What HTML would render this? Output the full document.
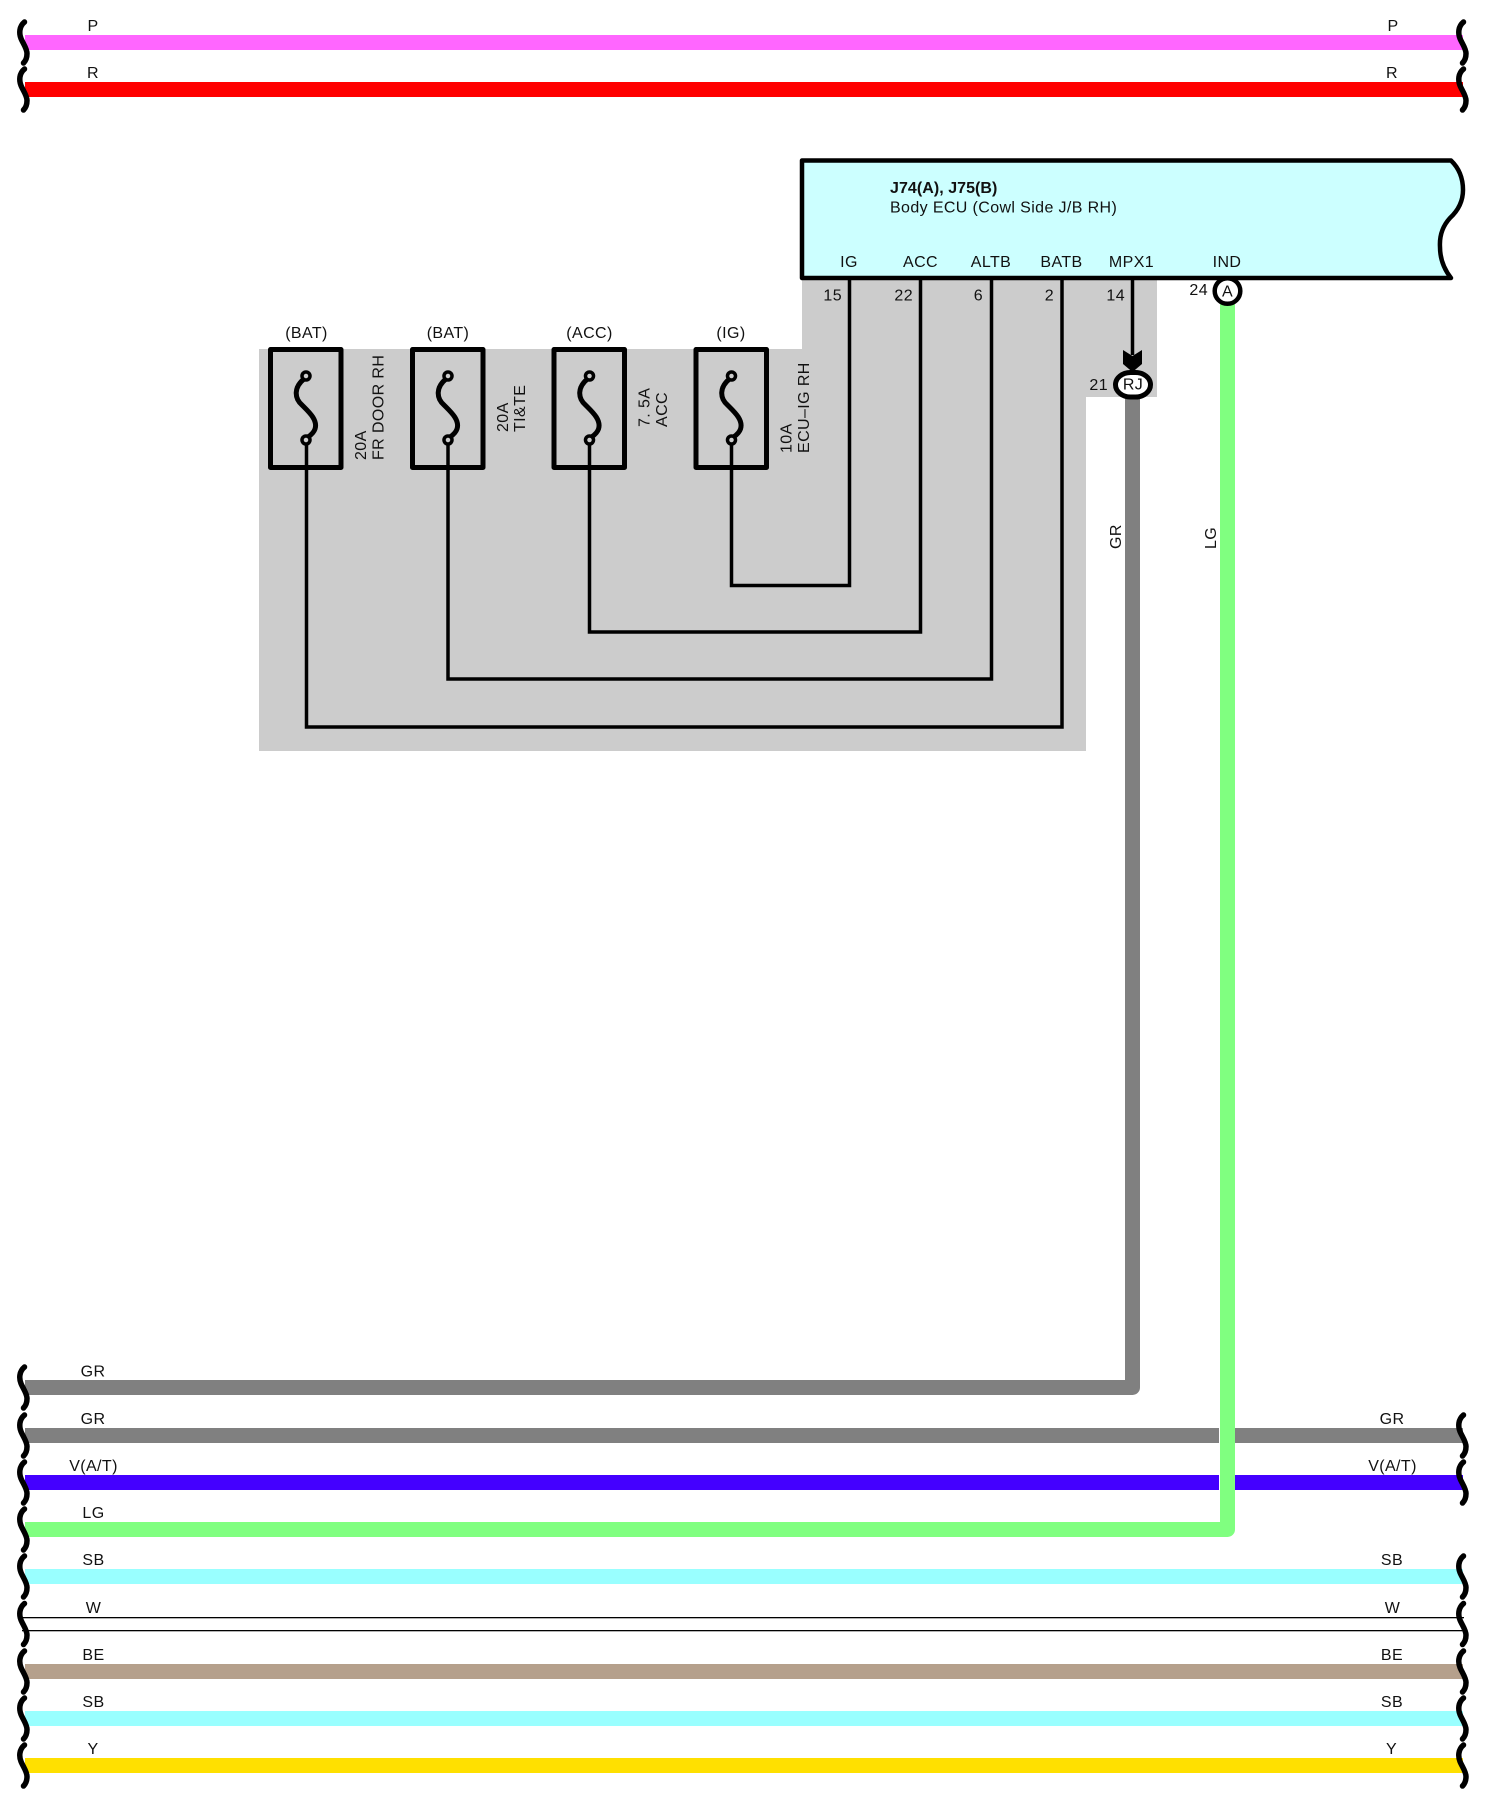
<!DOCTYPE html>
<html><head><meta charset="utf-8"><style>
html,body{margin:0;padding:0;background:#fff}
svg{display:block}
text{font-family:"Liberation Sans",Arial,sans-serif;font-size:16px;fill:#111;letter-spacing:.4px}
.m{text-anchor:middle}.e{text-anchor:end}
.w{fill:none;stroke-width:15}
.k{fill:none;stroke:#000;stroke-width:3.500}
.s{fill:none;stroke:#000;stroke-width:5.500;stroke-linecap:round}
</style></head><body>
<svg width="1488" height="1800" viewBox="0 0 1488 1800" xmlns="http://www.w3.org/2000/svg">
<defs>
<path id="sl" class="s" d="M24.5-20.500C19-16 19-9 21-4C23 1 27 6 27 11C27 15 26 18 23.500 20.500"/>
<path id="sr" class="s" d="M1463.500-20.500C1458-16 1458-9 1460-4C1462 1 1466 6 1466 11C1466 15 1465 18 1462.500 20.500"/>
<g id="fuse">
<rect x="-35.500" y="349.500" width="70.500" height="118" fill="none" stroke="#000" stroke-width="5" stroke-linejoin="round"/>
<path d="M-2 379C-12 387-12 398-4 405C3 412 12 420 9 429C8 432 5 435 2 437" fill="none" stroke="#000" stroke-width="5"/>
<circle cx="0" cy="376" r="4" fill="#ccc" stroke="#000" stroke-width="3.500"/>
<circle cx="0" cy="440" r="4" fill="#ccc" stroke="#000" stroke-width="3.500"/>
</g>
</defs>

<polygon fill="#ccc" points="259,349 802,349 802,280 1157,280 1157,397 1086,397 1086,751 259,751"/>

<!-- top wires -->
<rect x="25" y="35" width="1438" height="15" fill="#ff66ff"/>
<rect x="25" y="82" width="1438" height="15" fill="#ff0000"/>

<!-- bottom wires -->
<rect x="25" y="1428" width="1438" height="15" fill="#808080"/>
<rect x="25" y="1475" width="1438" height="15" fill="#4400ff"/>
<rect x="25" y="1569" width="1438" height="15" fill="#99ffff"/>
<rect x="22" y="1617" width="1442" height="1.300" fill="#000"/>
<rect x="22" y="1630" width="1442" height="1.300" fill="#000"/>
<rect x="25" y="1664" width="1438" height="15" fill="#b5a08c"/>
<rect x="25" y="1711" width="1438" height="15" fill="#99ffff"/>
<rect x="25" y="1758" width="1438" height="15" fill="#ffe000"/>
<path class="w" stroke="#808080" stroke-linejoin="round" d="M25 1387.500H1132.500V390"/>
<rect x="1219" y="1428" width="1" height="15" fill="#fff"/>
<rect x="1219" y="1475" width="1" height="15" fill="#fff"/>
<path class="w" stroke="#80ff80" stroke-linejoin="round" d="M25 1529.500H1227.500V295"/>

<!-- squiggles left -->
<use href="#sl" y="42.500"/><use href="#sl" y="89.500"/>
<use href="#sl" y="1387.500"/><use href="#sl" y="1435.500"/><use href="#sl" y="1482.500"/><use href="#sl" y="1529.500"/>
<use href="#sl" y="1576.500"/><use href="#sl" y="1624"/><use href="#sl" y="1671.500"/><use href="#sl" y="1718.500"/><use href="#sl" y="1765.500"/>
<!-- squiggles right -->
<use href="#sr" y="42.500"/><use href="#sr" y="89.500"/>
<use href="#sr" y="1435.500"/><use href="#sr" y="1482.500"/>
<use href="#sr" y="1576.500"/><use href="#sr" y="1624"/><use href="#sr" y="1671.500"/><use href="#sr" y="1718.500"/><use href="#sr" y="1765.500"/>

<!-- ECU box -->
<path d="M802 160.500H1451Q1463 172 1463 190Q1463 206 1450 218Q1439 230 1440 247Q1440 264 1451 278H802Z" fill="#ccffff" stroke="#000" stroke-width="4.500" stroke-linejoin="round"/>

<!-- black internal wires -->
<path class="k" d="M849.500 280V585.500H731.500V444"/>
<path class="k" d="M920.500 280V632H589.500V444"/>
<path class="k" d="M991.500 280V679H448V444"/>
<path class="k" d="M1062 280V727H306.500V444"/>
<path class="k" d="M1132.500 280V355"/>
<path d="M1123 350L1132.500 356L1142 350V364L1132.500 372L1123 364Z" fill="#000"/>

<!-- fuses -->
<use href="#fuse" x="306"/><use href="#fuse" x="448"/><use href="#fuse" x="589.500"/><use href="#fuse" x="731.500"/>

<!-- connectors -->
<rect x="1115.500" y="372.500" width="35" height="24.500" rx="15" ry="12.200" fill="#fff" stroke="#000" stroke-width="5"/>
<circle cx="1227.500" cy="291" r="12.800" fill="#fff" stroke="#000" stroke-width="4.500"/>

<!-- wire labels -->
<g class="m">
<text x="93" y="31" class="m">P</text><text x="93" y="78" class="m">R</text>
<text x="1393" y="31" class="m">P</text><text x="1392" y="78" class="m">R</text>
<text x="93" y="1376.500" class="m">GR</text><text x="93" y="1424" class="m">GR</text>
<text x="93.500" y="1471" class="m">V(A/T)</text><text x="93.500" y="1518" class="m">LG</text>
<text x="93.500" y="1565" class="m">SB</text><text x="93.500" y="1613" class="m">W</text>
<text x="93.500" y="1660" class="m">BE</text><text x="93.500" y="1707" class="m">SB</text>
<text x="93" y="1754" class="m">Y</text>
<text x="1392" y="1424" class="m">GR</text><text x="1392.500" y="1471" class="m">V(A/T)</text>
<text x="1392" y="1565" class="m">SB</text><text x="1392.500" y="1613" class="m">W</text>
<text x="1392" y="1660" class="m">BE</text><text x="1392" y="1707" class="m">SB</text>
<text x="1391.500" y="1754" class="m">Y</text>
</g>

<!-- ECU text -->
<text x="890" y="193" style="font-weight:bold;letter-spacing:.05px">J74(A), J75(B)</text>
<text x="890" y="212.500" style="letter-spacing:.38px">Body ECU (Cowl Side J/B RH)</text>
<text x="849" y="267" class="m">IG</text><text x="920.500" y="267" class="m">ACC</text>
<text x="991" y="267" class="m">ALTB</text><text x="1061.500" y="267" class="m">BATB</text>
<text x="1131.500" y="267" class="m">MPX1</text><text x="1227" y="267" class="m">IND</text>

<!-- pin numbers -->
<text x="842" y="300.500" class="e">15</text><text x="913" y="300.500" class="e">22</text>
<text x="983" y="300.500" class="e">6</text><text x="1054" y="300.500" class="e">2</text>
<text x="1125" y="300.500" class="e">14</text><text x="1108" y="390" class="e">21</text>
<text x="1208" y="295" class="e">24</text>
<text x="1133" y="389.500" class="m">RJ</text><text x="1227.500" y="296.500" class="m">A</text>

<!-- fuse supply labels -->
<text x="306.500" y="338" class="m">(BAT)</text><text x="448" y="338" class="m">(BAT)</text>
<text x="589.500" y="338" class="m">(ACC)</text><text x="731" y="338" class="m">(IG)</text>

<!-- rotated labels -->
<text transform="translate(366,460) rotate(-90)">20A</text>
<text transform="translate(383.500,460) rotate(-90)">FR DOOR RH</text>
<text transform="translate(508,432) rotate(-90)">20A</text>
<text transform="translate(525,432) rotate(-90)">TI&amp;TE</text>
<text transform="translate(649.500,427) rotate(-90)">7. 5A</text>
<text transform="translate(667,427) rotate(-90)">ACC</text>
<text transform="translate(791.500,453) rotate(-90)">10A</text>
<text transform="translate(809,453) rotate(-90)">ECU–IG RH</text>
<text transform="translate(1121,549) rotate(-90)">GR</text>
<text transform="translate(1216,549) rotate(-90)">LG</text>
</svg>
</body></html>
